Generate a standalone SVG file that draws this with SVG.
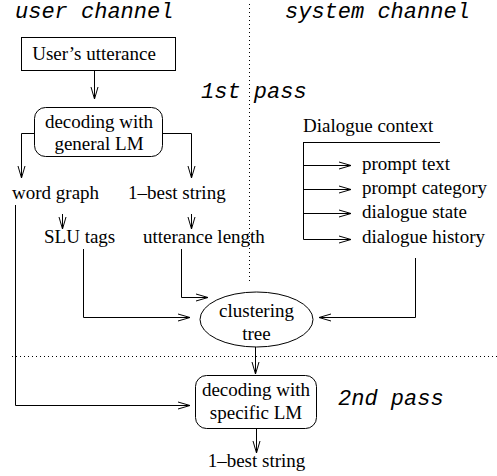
<svg xmlns="http://www.w3.org/2000/svg" width="497" height="476" viewBox="0 0 497 476">
<style>
.t{font-family:"Liberation Serif","Times New Roman",serif;font-size:19px;fill:#000}
.m{font-family:"Liberation Mono","Courier New",monospace;font-size:22px;font-style:italic;fill:#000}
.c{text-anchor:middle}
.ln{fill:none;stroke:#000;stroke-width:1}
.dot{fill:none;stroke:#000;stroke-width:1;stroke-dasharray:1 3}
.box{fill:#fff;stroke:#000;stroke-width:1}
</style>
<defs>
<marker id="ah" markerUnits="userSpaceOnUse" markerWidth="14" markerHeight="10" refX="12" refY="4" orient="auto" overflow="visible">
<path d="M0,0.5 L12,4 L0,7.5" fill="none" stroke="#000" stroke-width="1"/>
</marker>
</defs>
<rect width="497" height="476" fill="#fff"/>
<g id="labels">
<text class="m" x="15" y="18">user channel</text>
<text class="m" x="285" y="18">system channel</text>
<text class="m" x="201" y="98">1st pass</text>
<text class="m" x="338" y="405">2nd pass</text>
</g>
<g id="separators">
<line class="dot" x1="249.5" y1="4" x2="249.5" y2="284"/>
<line class="dot" x1="12" y1="356.5" x2="497" y2="356.5"/>
</g>
<g id="connectors">
<line class="ln" x1="94.5" y1="70" x2="94.5" y2="99" marker-end="url(#ah)"/>
<polyline class="ln" points="34,133.5 21.5,133.5 21.5,178" marker-end="url(#ah)"/>
<polyline class="ln" points="163,133.5 191.5,133.5 191.5,178" marker-end="url(#ah)"/>
<line class="ln" x1="62.5" y1="214" x2="62.5" y2="229" marker-end="url(#ah)"/>
<line class="ln" x1="191.5" y1="214" x2="191.5" y2="229" marker-end="url(#ah)"/>
<polyline class="ln" points="15.5,205 15.5,405.5 190,405.5" marker-end="url(#ah)"/>
<polyline class="ln" points="83.5,249 83.5,317.5 190,317.5" marker-end="url(#ah)"/>
<polyline class="ln" points="181.5,249 181.5,297.5 208,297.5" marker-end="url(#ah)"/>
<polyline class="ln" points="415.5,258 415.5,317.5 319,317.5" marker-end="url(#ah)"/>
<line class="ln" x1="255.5" y1="347" x2="255.5" y2="374" marker-end="url(#ah)"/>
<line class="ln" x1="256.5" y1="429" x2="256.5" y2="453" marker-end="url(#ah)"/>
<line class="ln" x1="303" y1="142.5" x2="440" y2="142.5"/>
<line class="ln" x1="303.5" y1="142.5" x2="303.5" y2="239.5"/>
<line class="ln" x1="303.5" y1="165.5" x2="351" y2="165.5" marker-end="url(#ah)"/>
<line class="ln" x1="303.5" y1="189.5" x2="351" y2="189.5" marker-end="url(#ah)"/>
<line class="ln" x1="303.5" y1="213.5" x2="351" y2="213.5" marker-end="url(#ah)"/>
<line class="ln" x1="303.5" y1="239.5" x2="351" y2="239.5" marker-end="url(#ah)"/>
</g>
<g id="n-utterance">
<rect class="box" x="21.5" y="37.5" width="154" height="33"/>
<text class="t c" x="94" y="59.5">User’s utterance</text>
</g>
<g id="n-decoding-general">
<rect class="box" x="34.5" y="107.5" width="128" height="49" rx="11" ry="11"/>
<text class="t c" x="99" y="128">decoding with</text>
<text class="t c" x="99" y="150">general LM</text>
</g>
<g id="n-word-graph"><text class="t" x="12" y="199">word graph</text></g>
<g id="n-best1"><text class="t" x="128" y="199">1–best string</text></g>
<g id="n-slu"><text class="t" x="44" y="243">SLU tags</text></g>
<g id="n-length"><text class="t" x="143" y="243">utterance length</text></g>
<g id="n-context"><text class="t" x="303" y="132">Dialogue context</text></g>
<g id="n-prompt-text"><text class="t" x="362" y="170">prompt text</text></g>
<g id="n-prompt-cat"><text class="t" x="362" y="194">prompt category</text></g>
<g id="n-state"><text class="t" x="362" y="218">dialogue state</text></g>
<g id="n-history"><text class="t" x="362" y="243">dialogue history</text></g>
<g id="n-tree">
<ellipse class="box" cx="256.5" cy="319.5" rx="56.5" ry="27.5"/>
<text class="t c" x="256.5" y="317">clustering</text>
<text class="t c" x="256.5" y="340">tree</text>
</g>
<g id="n-decoding-specific">
<rect class="box" x="195.5" y="375.5" width="121" height="53" rx="11" ry="11"/>
<text class="t c" x="256" y="396">decoding with</text>
<text class="t c" x="256" y="419">specific LM</text>
</g>
<g id="n-best2"><text class="t c" x="256.5" y="467">1–best string</text></g>
</svg>
